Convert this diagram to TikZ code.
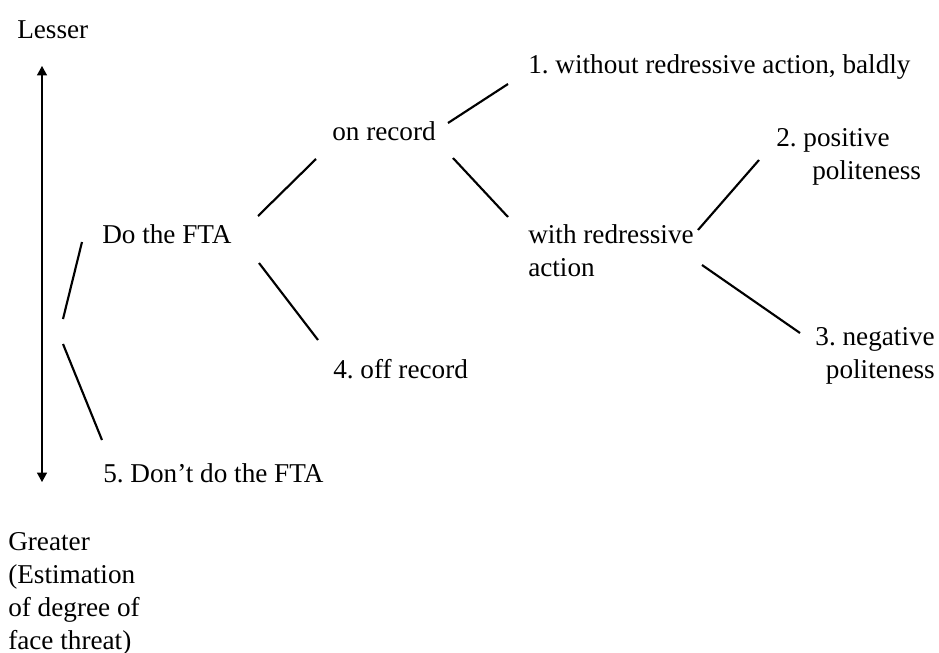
\documentclass[tikz,border=0pt]{standalone}
\usepackage{fontspec}
\setmainfont{Liberation Serif}
\usetikzlibrary{arrows.meta}
\frenchspacing
\newcommand{\mylines}[2]{\begin{tabular}[t]{@{}#1@{}}#2\end{tabular}}
\begin{document}
\begin{tikzpicture}[x=0.75pt,y=-0.75pt,
  lbl/.style={anchor=base west, inner sep=0pt, font=\fontsize{20.4}{24.75}\selectfont\frenchspacing},
  branch/.style={line width=1.6pt},
  axis/.style={line width=0.8pt, {Triangle[length=7pt,width=7.5pt]}-{Triangle[length=7pt,width=7.5pt]}}]
\useasboundingbox (0,0) rectangle (939,653);

% scale labels and axis
\node[lbl] (lesser) at (17,38) {Lesser};
\node[lbl] (greater) at (8,550) {\mylines{l}{Greater\\(Estimation\\of degree of\\face threat)}};
\coordinate (atop) at (42,66);
\coordinate (abot) at (42,482);
\draw[axis] (atop) -- (abot);

% tree nodes
\coordinate (root) at (63,331);
\node[lbl] (fta) at (102,243) {Do the FTA};
\node[lbl] (dont) at (103,482) {5. Don’t do the FTA};
\node[lbl] (on) at (332,140) {on record};
\node[lbl] (off) at (333,378) {4. off record};
\node[lbl] (bald) at (528,73) {1. without redressive action, baldly};
\node[lbl] (with) at (528,243) {\mylines{l}{with redressive\\action}};
\node[lbl] (pos) at (776,146) {\mylines{l}{2. positive\\\hspace*{27pt}politeness}};
\node[lbl, anchor=base east] (neg) at (935,345) {\mylines{r}{3. negative\\politeness}};

% connectors
\draw[branch] ([shift={(0,-12)}]root) -- ([shift={(-20,-1)}]fta.base west);
\draw[branch] ([shift={(0,13)}]root) -- ([shift={(-1,-42)}]dont.base west);
\draw[branch] ([shift={(156,-27)}]fta.base west) -- ([shift={(-16,19)}]on.base west);
\draw[branch] ([shift={(157,20)}]fta.base west) -- ([shift={(-15,-38)}]off.base west);
\draw[branch] ([shift={(116,-17)}]on.base west) -- ([shift={(-20,11)}]bald.base west);
\draw[branch] ([shift={(121,18)}]on.base west) -- ([shift={(-20,-26)}]with.base west);
\draw[branch] ([shift={(170,-13)}]with.base west) -- ([shift={(-17,14)}]pos.base west);
\draw[branch] ([shift={(174,22)}]with.base west) -- ([shift={(-135,-12)}]neg.base east);
\end{tikzpicture}
\end{document}
